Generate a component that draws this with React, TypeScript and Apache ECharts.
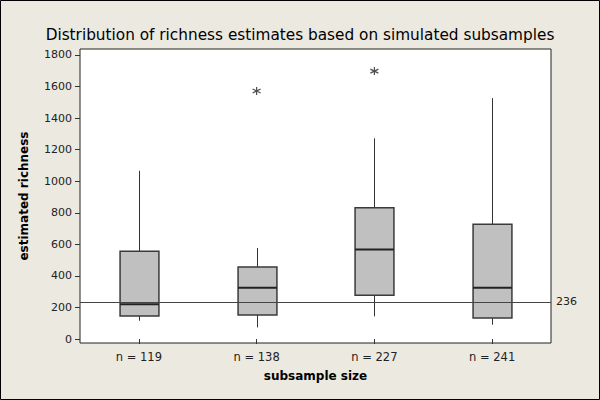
import React, { useEffect, useRef } from "react";
import * as echarts from "echarts";

const categories = ["n = 119", "n = 138", "n = 227", "n = 241"];
// [min whisker, Q1, median, Q3, max whisker]
const boxValues = [
  [116, 146, 220, 556, 1066],
  [74, 152, 325, 456, 577],
  [144, 277, 568, 832, 1272],
  [91, 133, 325, 727, 1527],
];
const outliers = [
  [1, 1572],
  [2, 1698],
];
const referenceValue = 236;
const yTicks = [0, 200, 400, 600, 800, 1000, 1200, 1400, 1600, 1800];

const FONT = "DejaVu Sans";

export default function App() {
  const ref = useRef<HTMLDivElement>(null);
  useEffect(() => {
    if (!ref.current) return;
    const chart = echarts.init(ref.current, null, { renderer: "svg" });
    const boxData = boxValues.map((b, i) => [i, ...b]);
    chart.setOption({
      animation: false,
      backgroundColor: "#ECE9E0",
      textStyle: { fontFamily: FONT },
      title: {
        text: "Distribution of richness estimates based on simulated subsamples",
        left: "center",
        top: 22,
        textStyle: { fontFamily: FONT, fontSize: 15.3, fontWeight: "normal", color: "#000" },
      },
      graphic: [
        {
          type: "rect",
          shape: { x: 0.5, y: 0.5, width: 599, height: 399 },
          style: { fill: "none", stroke: "#000", lineWidth: 1 },
          silent: true,
        },
      ],
      grid: {
        left: 80,
        right: 49,
        top: 49,
        bottom: 57,
        show: true,
        backgroundColor: "#fff",
        borderColor: "#222",
        borderWidth: 1,
      },
      xAxis: {
        type: "category",
        data: categories,
        boundaryGap: true,
        name: "subsample size",
        nameLocation: "middle",
        nameGap: 27,
        nameTextStyle: { fontFamily: FONT, fontSize: 12, fontWeight: "bold", color: "#000" },
        axisLine: { show: false },
        axisTick: { show: true, alignWithLabel: true, length: 5, lineStyle: { color: "#333" } },
        axisLabel: { fontFamily: FONT, fontSize: 11.5, color: "#222", margin: 8 },
        splitLine: { show: false },
      },
      yAxis: {
        type: "value",
        min: -25,
        max: 1838,
        name: "estimated richness",
        nameLocation: "middle",
        nameGap: 50,
        nameTextStyle: { fontFamily: FONT, fontSize: 12, fontWeight: "bold", color: "#000" },
        axisLine: { show: false },
        axisTick: { show: true, length: 5, customValues: yTicks, lineStyle: { color: "#333" } },
        axisLabel: {
          fontFamily: FONT,
          fontSize: 11,
          color: "#222",
          margin: 8,
          customValues: yTicks,
          formatter: (v: number) => String(v),
        },
        splitLine: { show: false },
      },
      series: [
        {
          type: "scatter",
          data: [],
          z: 1,
          markLine: {
            silent: true,
            symbol: ["none", "none"],
            lineStyle: { color: "#444", width: 1, type: "solid" },
            label: {
              show: true,
              position: "end",
              formatter: String(referenceValue),
              fontFamily: FONT,
              fontSize: 11,
              color: "#222",
            },
            data: [{ yAxis: referenceValue }],
          },
        },
        {
          type: "custom",
          z: 3,
          data: boxData,
          renderItem: (params: any, api: any) => {
            const x = api.value(0);
            const pMin = api.coord([x, api.value(1)]);
            const pQ1 = api.coord([x, api.value(2)]);
            const pMed = api.coord([x, api.value(3)]);
            const pQ3 = api.coord([x, api.value(4)]);
            const pMax = api.coord([x, api.value(5)]);
            const bw = api.size([1, 0])[0] * 0.33;
            const cx = Math.round(pMin[0]) + 0.5;
            const left = cx - bw / 2;
            return {
              type: "group",
              children: [
                {
                  type: "line",
                  shape: { x1: cx, y1: pQ3[1], x2: cx, y2: pMax[1] },
                  style: { stroke: "#333", lineWidth: 1 },
                },
                {
                  type: "line",
                  shape: { x1: cx, y1: pMin[1], x2: cx, y2: pQ1[1] },
                  style: { stroke: "#333", lineWidth: 1 },
                },
                {
                  type: "rect",
                  shape: { x: left, y: pQ3[1], width: bw, height: pQ1[1] - pQ3[1] },
                  style: { fill: "#C0C0C0", stroke: "#3a3a3a", lineWidth: 1.5 },
                },
                {
                  type: "line",
                  shape: { x1: left, y1: pMed[1], x2: left + bw, y2: pMed[1] },
                  style: { stroke: "#222", lineWidth: 2 },
                },
              ],
            };
          },
        },
        {
          type: "scatter",
          z: 4,
          data: outliers,
          symbol: "path://M4,0L4,8M0.6,2L7.4,6M0.6,6L7.4,2",
          symbolSize: 8,
          itemStyle: { color: "none", borderColor: "#222", borderWidth: 1.2 },
        },
      ],
    });
    return () => chart.dispose();
  }, []);
  return (
    <div
      ref={ref}
      style={{ position: "fixed", left: 0, top: 0, width: 600, height: 400 }}
    />
  );
}
